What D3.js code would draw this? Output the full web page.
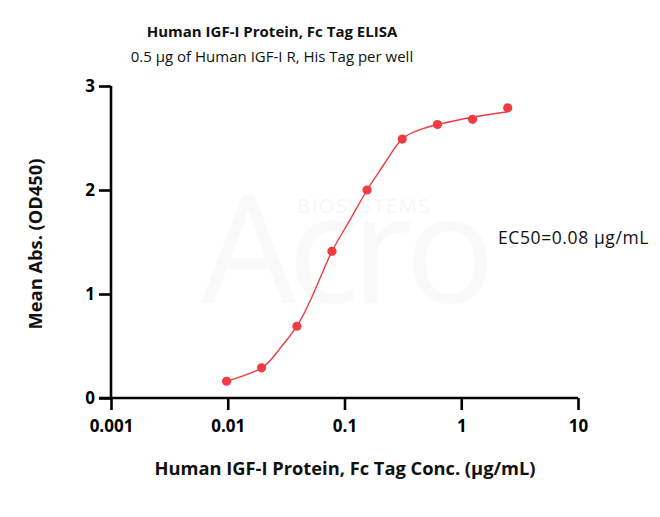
<!DOCTYPE html>
<html>
<head>
<meta charset="utf-8">
<script src="https://cdn.jsdelivr.net/npm/d3@7"></script>
<style>
  html, body { margin: 0; padding: 0; background: #fff; }
  svg { display: block; }
</style>
</head>
<body>
<svg id="chart" width="660" height="517"></svg>
<script>
// ---- data: measured points ----
const concentrations = [0.00977, 0.0195, 0.0391, 0.0781, 0.156, 0.3125, 0.625, 1.25, 2.5];
const absorbance = [0.161, 0.29, 0.69, 1.41, 2.0, 2.49, 2.63, 2.68, 2.79];
// ---- data: fitted curve ----
const fitConc = [0.00977, 0.0195, 0.0276, 0.0391, 0.0559, 0.0781, 0.1114, 0.156, 0.2223, 0.3125, 0.4433, 0.625, 1.25, 2.5];
const fitAbs  = [0.161, 0.29, 0.468, 0.69, 1.038, 1.41, 1.712, 2.0, 2.262, 2.49, 2.58, 2.63, 2.70, 2.753];
// ---- ticks / labels ----
const xTicks = [0.001, 0.01, 0.1, 1, 10];
const xTickLabels = ["0.001", "0.01", "0.1", "1", "10"];
const yTicks = [0, 1, 2, 3];
const titleText = "Human IGF-I Protein, Fc Tag ELISA";
const subtitleText = "0.5 \u00b5g of Human IGF-I R, His Tag per well";
const xTitle = "Human IGF-I Protein, Fc Tag Conc. (\u00b5g/mL)";
const yTitle = "Mean Abs. (OD450)";
const ec50Label = "EC50=0.08 \u00b5g/mL";

// ---- layout ----
const svg = d3.select("#chart");
const pLeft = 111, pRight = 578, pTop = 86, pBottom = 398;
const font = "'Open Sans', 'Noto Sans', sans-serif";
const red = "#ef3b42";

const x = d3.scaleLog().domain([0.001, 10]).range([pLeft, pRight]);
const y = d3.scaleLinear().domain([0, 3]).range([pBottom, pTop]);

// faint watermark
svg.append("text").attr("x", 364).attr("y", 213).attr("text-anchor", "middle")
  .attr("font-family", font).attr("font-size", 20).attr("letter-spacing", 1.5)
  .attr("fill", "#f6f6f6").text("BIOSYSTEMS");
svg.append("text").attr("x", 344).attr("y", 303).attr("text-anchor", "middle")
  .attr("font-family", font).attr("font-weight", 400).attr("font-size", 150)
  .attr("letter-spacing", -8).attr("fill", "#f9f9f9").text("Acro");

// titles
svg.append("text").attr("x", 272).attr("y", 37).attr("text-anchor", "middle")
  .attr("font-family", font).attr("font-weight", "bold").attr("font-size", 15)
  .attr("fill", "#111").text(titleText);
svg.append("text").attr("x", 272).attr("y", 62).attr("text-anchor", "middle")
  .attr("font-family", font).attr("font-size", 15)
  .attr("fill", "#111").text(subtitleText);

// axes
const xAxis = d3.axisBottom(x).tickValues(xTicks)
  .tickFormat((d, i) => xTickLabels[i]).tickSize(12).tickPadding(10).tickSizeOuter(0);
const gx = svg.append("g").attr("transform", `translate(0,${pBottom})`).call(xAxis);
const yAxis = d3.axisLeft(y).tickValues(yTicks).tickFormat(d3.format("d"))
  .tickSize(12).tickPadding(4).tickSizeOuter(0);
const gy = svg.append("g").attr("transform", `translate(${pLeft},0)`).call(yAxis);

[gx, gy].forEach(g => {
  g.select(".domain").attr("stroke", "#000").attr("stroke-width", 2.6);
  g.selectAll(".tick line").attr("stroke", "#000").attr("stroke-width", 2.6);
  g.selectAll(".tick text").attr("font-family", font).attr("font-weight", "bold")
    .attr("font-size", 17).attr("fill", "#000");
});
gy.select(".domain").attr("d", `M0,${pBottom + 1.3}V${pTop}`);
gx.select(".domain").attr("d", `M${pLeft - 12},0H${pRight}`);

// axis titles
svg.append("text").attr("x", 345).attr("y", 475).attr("text-anchor", "middle")
  .attr("font-family", font).attr("font-weight", "bold").attr("font-size", 18.3)
  .attr("fill", "#111").text(xTitle);
svg.append("text").attr("transform", `translate(42,244) rotate(-90)`)
  .attr("text-anchor", "middle")
  .attr("font-family", font).attr("font-weight", "bold").attr("font-size", 18.3)
  .attr("fill", "#111").text(yTitle);

// fitted curve
const line = d3.line()
  .x(d => x(d[0])).y(d => y(d[1]))
  .curve(d3.curveNatural);
svg.append("path").datum(fitConc.map((c, i) => [c, fitAbs[i]]))
  .attr("d", line)
  .attr("fill", "none").attr("stroke", red).attr("stroke-width", 1.4);

// data points
svg.append("g").selectAll("circle").data(concentrations).join("circle")
  .attr("cx", d => x(d)).attr("cy", (d, i) => y(absorbance[i]))
  .attr("r", 4.6).attr("fill", red);

// EC50 label
svg.append("text").attr("x", 498).attr("y", 244)
  .attr("font-family", font).attr("font-size", 17.5).attr("letter-spacing", 0.6)
  .attr("fill", "#111").text(ec50Label);
</script>
</body>
</html>
